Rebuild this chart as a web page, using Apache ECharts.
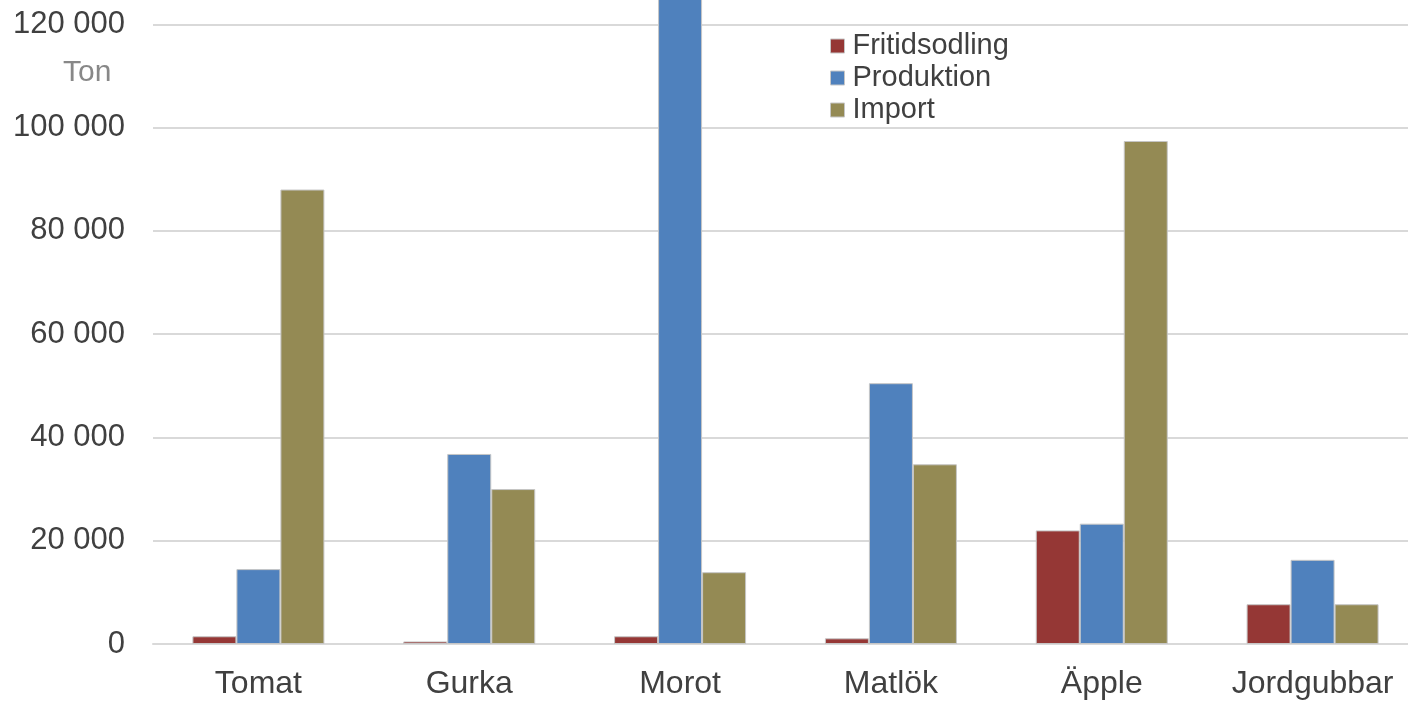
<!DOCTYPE html>
<html>
<head>
<meta charset="utf-8">
<script src="https://cdn.jsdelivr.net/npm/echarts@6/dist/echarts.min.js"></script>
<style>
  html, body { margin: 0; padding: 0; background: #fff; }
  #chart { width: 1408px; height: 701px; }
</style>
</head>
<body>
<div id="chart"></div>
<script>
// data (Ton)
const categories = ['Tomat', 'Gurka', 'Morot', 'Matlök', 'Äpple', 'Jordgubbar'];
const fritidsodling = [1500, 500, 1500, 1100, 22000, 7700];
const produktion = [14500, 36800, 135000, 50500, 23300, 16300];
const importVals = [88000, 30000, 13900, 34800, 97400, 7700];
const seriesNames = ['Fritidsodling', 'Produktion', 'Import'];
const colors = ['#953735', '#4f81bd', '#948a54'];

const font = '"Liberation Sans", Arial, sans-serif';
const chart = echarts.init(document.getElementById('chart'), null, { renderer: 'canvas' });

function fmt(v){
  // 120000 -> "120 000"
  return String(v).replace(/\B(?=(\d{3})+(?!\d))/g, ' ');
}

const bar = (name, data, i) => ({
  name: name,
  type: 'bar',
  data: data,
  barWidth: 44,
  barGap: '0%',
  itemStyle: { color: colors[i], borderColor: '#c6c6c6', borderWidth: 1 },
  emphasis: { disabled: true }
});

chart.setOption({
  animation: false,
  color: colors,
  textStyle: { fontFamily: font },
  title: {
    text: 'Ton',
    left: 58, top: 53,
    textStyle: { fontFamily: font, fontSize: 30, fontWeight: 'normal', color: '#888888' }
  },
  legend: {
    orient: 'vertical',
    left: 825, top: 25,
    itemWidth: 14, itemHeight: 14, itemGap: 0,
    icon: 'rect',
    itemStyle: { borderColor: '#c6c6c6', borderWidth: 1 },
    textStyle: { fontFamily: font, fontSize: 29, color: '#404040', lineHeight: 32, padding: [0, 0, 0, 3] },
    data: seriesNames
  },
  // top of the plot is cut off in the reference, so the grid starts above the canvas
  grid: { left: 153, top: -79, width: 1265, height: 723, containLabel: false, outerBoundsMode: 'none' },
  xAxis: {
    type: 'category',
    data: categories,
    axisLine: { lineStyle: { color: '#d9d9d9', width: 2 } },
    axisTick: { show: false },
    axisLabel: { fontFamily: font, fontSize: 32, color: '#404040', margin: 24 }
  },
  yAxis: {
    type: 'value',
    min: 0, max: 140000, interval: 20000,
    axisLine: { show: false },
    axisTick: { show: false },
    splitLine: { lineStyle: { color: '#d9d9d9', width: 2 } },
    axisLabel: { fontFamily: font, fontSize: 31, color: '#404040', margin: 28, formatter: fmt }
  },
  series: [
    bar(seriesNames[0], fritidsodling, 0),
    bar(seriesNames[1], produktion, 1),
    bar(seriesNames[2], importVals, 2)
  ]
});
</script>
</body>
</html>
